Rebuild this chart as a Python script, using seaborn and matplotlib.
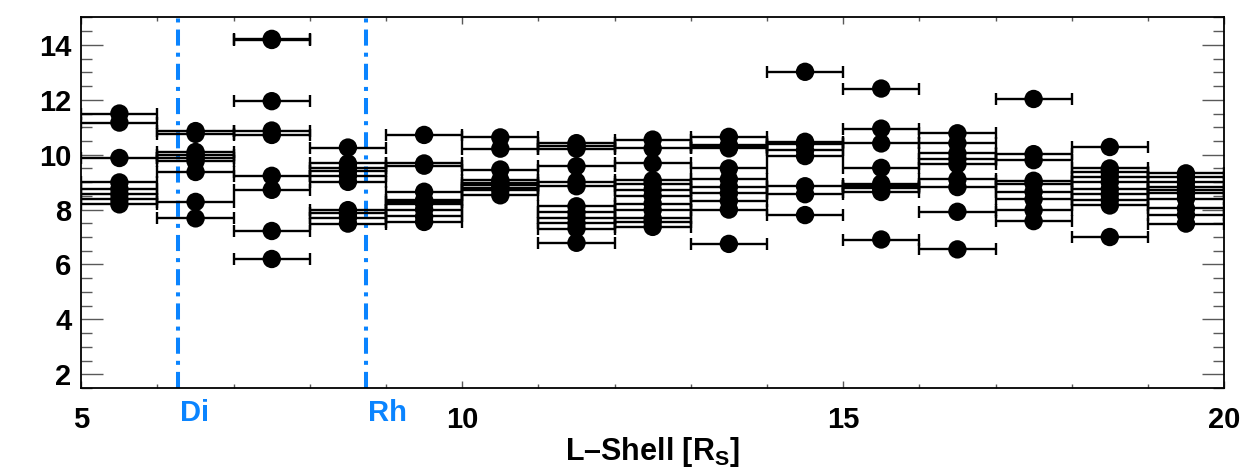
import numpy as np
import pandas as pd
import seaborn as sns
import matplotlib
matplotlib.use('Agg')
import matplotlib.pyplot as plt
import matplotlib.transforms as mtransforms

# values, one list per L-shell bin (bin width 1 R_S)
bin_centers = [5.5, 6.5, 7.5, 8.5, 9.5, 10.5, 11.5, 12.5, 13.5, 14.5, 15.5, 16.5, 17.5, 18.5, 19.5]
bin_5_5 = [11.50, 11.17, 9.88, 8.99, 8.75, 8.56, 8.37, 8.19]
bin_6_5 = [10.86, 10.76, 10.10, 10.00, 9.88, 9.76, 9.37, 8.28, 7.68]
bin_7_5 = [14.22, 14.18, 11.95, 10.88, 10.72, 9.23, 8.72, 7.22, 6.20]
bin_8_5 = [10.26, 9.68, 9.53, 9.41, 9.23, 9.01, 7.98, 7.86, 7.71, 7.49]
bin_9_5 = [10.72, 9.68, 9.60, 8.65, 8.35, 8.28, 8.22, 8.00, 7.75, 7.55]
bin_10_5 = [10.63, 10.22, 9.46, 9.07, 8.97, 8.88, 8.78, 8.70, 8.52]
bin_11_5 = [10.42, 10.30, 10.22, 9.58, 9.02, 8.85, 8.12, 7.90, 7.71, 7.50, 7.31, 6.79]
bin_12_5 = [10.55, 10.23, 9.68, 9.07, 8.95, 8.73, 8.50, 8.22, 7.98, 7.68, 7.55, 7.37]
bin_13_5 = [10.65, 10.35, 10.28, 10.23, 9.50, 9.10, 8.83, 8.59, 8.32, 8.00, 6.75]
bin_14_5 = [13.02, 10.47, 10.38, 10.16, 9.95, 8.85, 8.56, 7.80]
bin_15_5 = [12.41, 10.95, 10.41, 9.52, 8.95, 8.86, 8.77, 8.64, 6.91]
bin_16_5 = [10.78, 10.42, 10.05, 9.85, 9.65, 9.10, 8.82, 7.92, 6.55]
bin_17_5 = [12.03, 10.02, 9.80, 9.05, 8.95, 8.65, 8.38, 7.98, 7.58]
bin_18_5 = [10.28, 9.50, 9.38, 9.20, 9.00, 8.75, 8.55, 8.35, 8.15, 7.00]
bin_19_5 = [9.32, 9.19, 9.01, 8.83, 8.71, 8.59, 8.40, 8.04, 7.80, 7.49]
bin_half_width = 0.5

# moon orbits
moon_names = ['Di', 'Rh']
moon_L = [6.27, 8.74]

bins = [bin_5_5, bin_6_5, bin_7_5, bin_8_5, bin_9_5, bin_10_5, bin_11_5, bin_12_5,
        bin_13_5, bin_14_5, bin_15_5, bin_16_5, bin_17_5, bin_18_5, bin_19_5]
rows = []
for c, vals in zip(bin_centers, bins):
    for v in vals:
        rows.append({'L': c, 'value': v})
df = pd.DataFrame(rows)

sns.set_theme(style='ticks')
plt.rcParams['font.family'] = ['Liberation Sans', 'DejaVu Sans']
plt.rcParams['font.weight'] = 'bold'
plt.rcParams['text.color'] = 'black'
plt.rcParams['xtick.labelcolor'] = 'black'
plt.rcParams['ytick.labelcolor'] = 'black'
plt.rcParams['axes.labelcolor'] = 'black'
plt.rcParams['mathtext.fontset'] = 'custom'
plt.rcParams['mathtext.rm'] = 'Liberation Sans:bold'
plt.rcParams['mathtext.bf'] = 'Liberation Sans:bold'

fig = plt.figure(figsize=(12.47, 4.72), dpi=100)
ax = fig.add_axes([0.0652, 0.178, 0.9164, 0.785])

ax.errorbar(df['L'], df['value'], xerr=bin_half_width, fmt='none', ecolor='black',
            elinewidth=1.7, capsize=4, capthick=1.7, zorder=2)
sns.scatterplot(data=df, x='L', y='value', color='black', s=175, edgecolor='none',
                ax=ax, zorder=3, legend=False)

blue = '#0a84ff'
trans = mtransforms.blended_transform_factory(ax.transData, ax.transAxes)
for name, L in zip(moon_names, moon_L):
    ax.axvline(L, color=blue, ls=(0, (4, 1.75, 1, 1.75)), lw=2.9, zorder=1)
    ax.text(L + 0.02, -0.03, name, color=blue, fontsize=21, fontweight='bold',
            ha='left', va='top', transform=trans)

ax.set_xlim(5, 20)
ax.set_ylim(1.5, 15)
ax.set_xticks([5, 10, 15, 20])
ax.set_xticks(np.arange(5, 21, 1), minor=True)
ax.set_yticks(np.arange(2, 15, 2))
ax.set_yticks(np.arange(1.5, 15.01, 0.5), minor=True)

ax.tick_params(axis='both', which='both', direction='in', top=True, right=True,
               color='0.35', width=1.0, labelcolor='black')
ax.tick_params(axis='x', which='major', length=5, pad=13, labelsize=21)
ax.tick_params(axis='x', which='minor', length=3)
ax.tick_params(axis='y', which='major', length=16, pad=7, labelsize=21)
ax.tick_params(axis='y', which='minor', length=8)
for lab in ax.get_xticklabels() + ax.get_yticklabels():
    lab.set_fontweight('bold')

for sp in ax.spines.values():
    sp.set_linewidth(1.3)
    sp.set_color('black')

ax.set_xlabel('L–Shell [R$_\\mathrm{S}$]', fontsize=22, fontweight='bold', labelpad=1,
              color='black')
ax.set_ylabel('')

fig.savefig('out.png', dpi=100)
